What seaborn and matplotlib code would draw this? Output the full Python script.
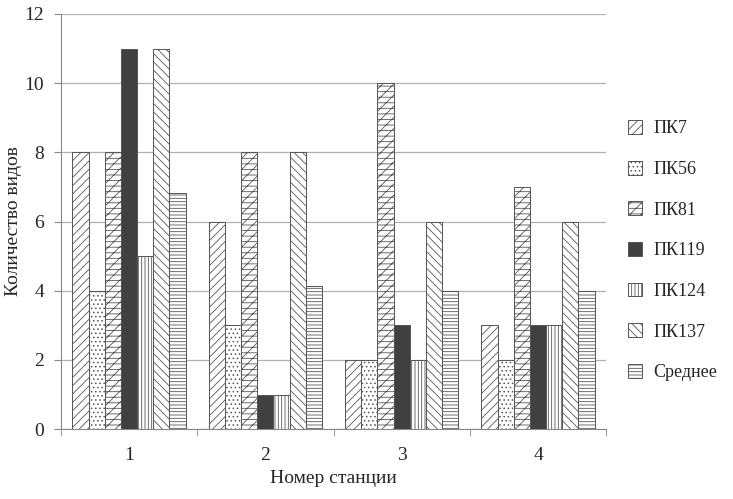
import numpy as np
import pandas as pd
import seaborn as sns
from matplotlib import pyplot as plt

# данные с графика
stations = ['1', '2', '3', '4']
series = ['ПК7', 'ПК56', 'ПК81', 'ПК119', 'ПК124', 'ПК137', 'Среднее']
pk7 = [8, 6, 2, 3]
pk56 = [4, 3, 2, 2]
pk81 = [8, 8, 10, 7]
pk119 = [11, 1, 3, 3]
pk124 = [5, 1, 2, 3]
pk137 = [11, 8, 6, 6]
mean = [6.83, 4.14, 4, 4]

values = [pk7, pk56, pk81, pk119, pk124, pk137, mean]
rows = []
for name, vals in zip(series, values):
    for st, v in zip(stations, vals):
        rows.append({'station': st, 'series': name, 'value': v})
df = pd.DataFrame(rows)

sns.set_style('white')
FONT = ['Liberation Serif', 'DejaVu Serif']
plt.rcParams['font.family'] = FONT
plt.rcParams['font.serif'] = FONT
plt.rcParams['hatch.linewidth'] = 0.6
plt.rcParams['hatch.color'] = '#333333'

fig = plt.figure(figsize=(7.33, 4.99), dpi=100)
ax = fig.add_axes([0.083, 0.14, 0.744, 0.832])

fills = ['white', 'white', 'white', '#404040', 'white', 'white', 'white']
hatches = ['////', '....', '///---', '', '|||||', '\\\\\\\\', '-----']

sns.barplot(data=df, x='station', y='value', hue='series', hue_order=series,
            order=stations, ax=ax, width=0.83, palette=fills,
            edgecolor='#555555', linewidth=0.7, saturation=1, legend=True)

for cont, h, c in zip(ax.containers, hatches, fills):
    for p in cont.patches:
        p.set_hatch(h)
        p.set_facecolor(c)

ax.set_ylim(0, 12)
ax.set_yticks(range(0, 13, 2))
ax.set_xlim(-0.5, 3.5)
ax.yaxis.grid(True, color='#b0b0b0', linewidth=0.9)
ax.set_axisbelow(True)
for s in ['top', 'right']:
    ax.spines[s].set_visible(False)
for s in ['left', 'bottom']:
    ax.spines[s].set_color('#888888')
ax.tick_params(axis='y', left=True, length=5, color='#888888', labelsize=14, pad=7)
ax.tick_params(axis='x', bottom=False, labelsize=14, pad=9)
ax.set_xticks(np.arange(-0.5, 4, 1), minor=True)
ax.tick_params(axis='x', which='minor', bottom=True, length=5, color='#888888')
for t in ax.get_xticklabels() + ax.get_yticklabels():
    t.set_family(FONT)

ax.set_xlabel('Номер станции', fontsize=14, labelpad=5, family=FONT)
ax.set_ylabel('Количество видов', fontsize=14, labelpad=2, family=FONT)

handles, labels = ax.get_legend_handles_labels()
for hd, h, c in zip(handles, hatches, fills):
    hd.set_hatch(h)
    hd.set_facecolor(c)
ax.legend(handles, labels, loc='center left', bbox_to_anchor=(1.01, 0.43),
          frameon=False, prop={'family': FONT, 'size': 13}, labelspacing=1.3,
          handlelength=0.8, handleheight=0.8, handletextpad=0.6)

fig.savefig('out.png', dpi=100)
